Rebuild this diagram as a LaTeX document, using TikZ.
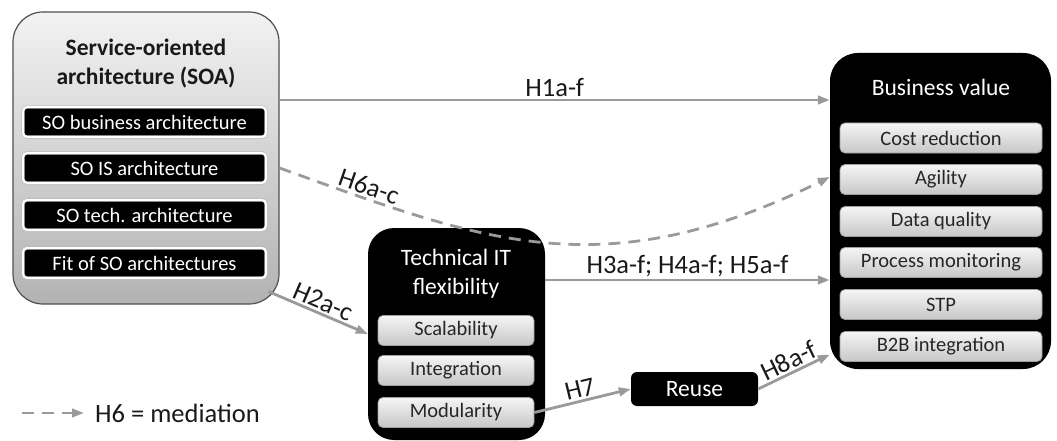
\documentclass[tikz,border=0pt]{standalone}
\usepackage{fontspec}
\setmainfont{Carlito}
\usetikzlibrary{arrows.meta,calc}
\definecolor{linkgrey}{HTML}{9A9A9A}
\definecolor{frameedge}{HTML}{505050}
\definecolor{itemtext}{HTML}{262626}
\newcommand{\titlefont}{\fontsize{23.5}{29}\selectfont}
\newcommand{\itemfont}{\fontsize{20.5}{24}\selectfont}
\newcommand{\labelfont}{\fontsize{26.5}{30}\selectfont}
\begin{document}
\begin{tikzpicture}[x=1pt,y=-1pt,
  soaframe/.style={rounded corners=30pt, draw=frameedge, line width=1.2pt,
    top color=white!95!black, bottom color=black!30, minimum width=266pt,
    minimum height=292pt, inner sep=0pt},
  blackframe/.style={rounded corners=26pt, fill=black, inner sep=0pt},
  blackitem/.style={rounded corners=4pt, fill=black, draw=gray!55,
    double=white, double distance=2pt, line width=0.6pt, text=white,
    font=\itemfont, minimum height=30pt, inner sep=0pt},
  greyitem/.style={rounded corners=5pt, draw=gray!75, line width=0.8pt,
    top color=white!96!black, bottom color=black!22, text=itemtext,
    font=\itemfont, minimum height=30pt, inner sep=0pt},
  boxtitle/.style={align=center, font=\titlefont, inner sep=0pt},
  link/.style={draw=linkgrey, line width=2.8pt,
    -{Triangle[length=12pt,width=8.5pt]}},
  dashlink/.style={link, dash pattern=on 12pt off 8pt},
  linklabel/.style={font=\labelfont, text=black!90, inner sep=2pt}
]
\useasboundingbox (0,0) rectangle (1057,441);

% service-oriented architecture
\node[soaframe] (soa) at (146,158) {};
\node[boxtitle, font=\titlefont\bfseries, text=black!90] (soatitle) at (146,64)
  {Service-oriented\\architecture (SOA)};
\node[blackitem, minimum width=243pt] (sobus) at (144.5,122) {SO business architecture};
\node[blackitem, minimum width=243pt] (sois)  at (144.5,168) {SO IS architecture};
\node[blackitem, minimum width=243pt] (sotech) at (144.5,215) {SO tech. architecture};
\node[blackitem, minimum width=243pt] (sofit) at (144.5,263) {Fit of SO architectures};

% business value
\node[blackframe, rounded corners=28pt, minimum width=221pt, minimum height=316pt] (bv) at (940.5,211) {};
\node[boxtitle, text=white] (bvtitle) at (941,87) {Business value};
\node[greyitem, minimum width=202pt] (cost) at (941,138)   {Cost reduction};
\node[greyitem, minimum width=202pt] (agil) at (941,179.5) {Agility};
\node[greyitem, minimum width=202pt] (dq)   at (941,221.5) {Data quality};
\node[greyitem, minimum width=202pt] (pm)   at (941,262.5) {Process monitoring};
\node[greyitem, minimum width=202pt] (stp)  at (941,304.5) {STP};
\node[greyitem, minimum width=202pt] (b2b)  at (941,346.5) {B2B integration};

% technical IT flexibility
\node[blackframe, minimum width=177pt, minimum height=212pt] (tech) at (456.5,334) {};
\node[boxtitle, text=white] (techtitle) at (456,274) {Technical IT\\flexibility};
\node[greyitem, minimum width=156pt] (scal) at (456,330.5) {Scalability};
\node[greyitem, minimum width=156pt] (integ) at (456,370.5) {Integration};
\node[greyitem, minimum width=156pt] (modu) at (456,412.5) {Modularity};

% reuse
\node[fill=black, rounded corners=6pt, minimum width=127pt, minimum height=34pt,
  inner sep=0pt, text=white, font=\titlefont] (reuse) at (694.5,389) {Reuse};

% row heights of the links
\coordinate (rowone) at (0,100);
\coordinate (rowsix) at (0,168);
\coordinate (rowsixend) at (0,177);
\coordinate (rowthree) at (0,280);

% hypotheses
\draw[link] (soa.east |- rowone) -- node[linklabel, above] {H1a-f} (bv.west |- rowone);
\draw[link] (tech.east |- rowthree) -- node[linklabel, above] {H3a-f; H4a-f; H5a-f} (bv.west |- rowthree);
\draw[link] ($(soa.south east)+(-11,-13)$) -- node[linklabel, sloped, above] {H2a-c} (tech.west);
\draw[link] (modu.east) -- node[linklabel, sloped, above] {H7} (reuse.west);
\draw[link] (reuse.east) -- node[linklabel, sloped, above] {H8a-f} ($(bv.west |- b2b)+(0,8)$);
\draw[dashlink] (soa.east |- rowsix) .. controls (480,240) and (600,290) ..
  node[linklabel, sloped, above, pos=0.15] {H6a-c} (bv.west |- rowsixend);

% legend
\coordinate (legstart) at (22,413);
\node[anchor=west, font=\labelfont, inner sep=0pt, text=black!90] (legtext) at (95,413) {H6 = mediation};
\draw[dashlink] (legstart) -- ($(legtext.west)+(-11,0)$);
\end{tikzpicture}
\end{document}
